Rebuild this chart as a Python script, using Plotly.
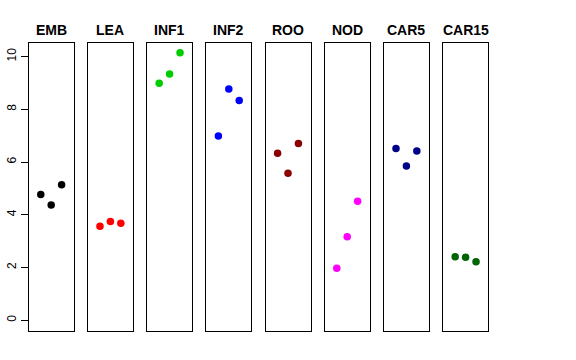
import plotly.graph_objects as go

categories = ["EMB", "LEA", "INF1", "INF2", "ROO", "NOD", "CAR5", "CAR15"]
colors = ["#000000", "#FF0000", "#00CD00", "#0000FF", "#8B0000", "#FF00FF", "#00008B", "#006400"]
replicate = [1, 2, 3]
emb = [4.77, 4.37, 5.14]
lea = [3.57, 3.75, 3.68]
inf1 = [8.99, 9.34, 10.14]
inf2 = [6.99, 8.77, 8.33]
roo = [6.33, 5.58, 6.70]
nod = [1.97, 3.17, 4.51]
car5 = [6.51, 5.85, 6.42]
car15 = [2.41, 2.39, 2.22]
values = [emb, lea, inf1, inf2, roo, nod, car5, car15]
y_ticks = [0, 2, 4, 6, 8, 10]

W, H = 576, 360
left0, pitch, pw = 28.7, 59.2, 45.0
top, bottom = 42.7, 331.0
title_y = 30.0

fig = go.Figure()
layout = dict(width=W, height=H, margin=dict(l=0, r=0, t=0, b=0, autoexpand=False),
              plot_bgcolor="white", paper_bgcolor="white", showlegend=False,
              font=dict(family="Liberation Sans, Arial, sans-serif", color="black"))
annotations = []
for i, (cat, col, vals) in enumerate(zip(categories, colors, values)):
    n = "" if i == 0 else str(i + 1)
    x0 = left0 + i * pitch
    fig.add_trace(go.Scatter(x=replicate, y=vals, mode="markers",
                             marker=dict(color=col, size=7.5, line=dict(width=0)),
                             xaxis="x" + n, yaxis="y" + n, cliponaxis=False))
    layout["xaxis" + n] = dict(domain=[x0 / W, (x0 + pw) / W], range=[-0.16, 4.16],
                               showticklabels=False, ticks="", showgrid=False, zeroline=False,
                               showline=True, mirror=True, linecolor="black", linewidth=1,
                               anchor="y" + n, automargin=False)
    ya = dict(domain=[1 - bottom / H, 1 - top / H], range=[-0.405, 10.525],
              showgrid=False, zeroline=False, showline=True, mirror=True,
              linecolor="black", linewidth=1, anchor="x" + n, automargin=False)
    if i == 0:
        ya.update(tickvals=y_ticks, ticktext=[str(v) for v in y_ticks], ticks="outside",
                  ticklen=7, tickcolor="black", tickangle=-90,
                  tickfont=dict(size=12, color="black"))
    else:
        ya.update(showticklabels=False, ticks="")
    layout["yaxis" + n] = ya
    annotations.append(dict(text="<b>" + cat + "</b>", x=(x0 + pw / 2) / W, y=1 - title_y / H,
                            xref="paper", yref="paper", showarrow=False,
                            xanchor="center", yanchor="middle",
                            font=dict(size=14, color="black")))
layout["annotations"] = annotations
fig.update_layout(**layout)
fig.write_html("out.html", config={"displayModeBar": False},
               post_script="document.body.style.margin='0';document.body.style.padding='0';")
